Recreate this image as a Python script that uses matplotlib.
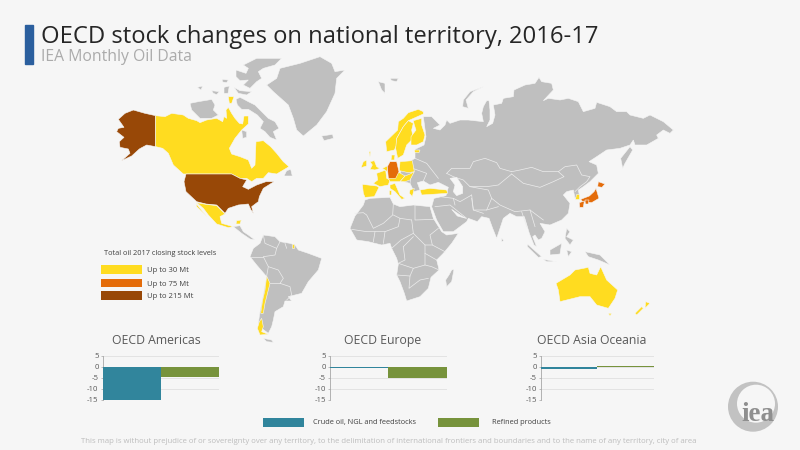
import matplotlib
matplotlib.use("Agg")
import matplotlib.pyplot as plt
from matplotlib.patches import Polygon, Rectangle, Circle

plt.rcParams['font.family'] = ['Open Sans', 'DejaVu Sans']
plt.rcParams['axes.unicode_minus'] = False

BG = '#F6F6F6'; GREY = '#BFBFBF'; YEL = '#FFDC20'; ORA = '#E46C0A'; BRO = '#984807'
TEAL = '#31859C'; GRN = '#77933C'

# ---------- chart data ----------
regions = ['OECD Americas', 'OECD Europe', 'OECD Asia Oceania']
crude = [-15.0, -0.7, -0.9]
refined = [-4.5, -5.2, 0.3]
yticks = [5, 0, -5, -10, -15]
legend_levels = ['Up to 30 Mt', 'Up to 75 Mt', 'Up to 215 Mt']

# ---------- map outlines (origin x, origin y, 3x crop points) ----------
NA = (100, 50)
alaska = [(100,180),(135,190),(167,197),(167,290),(140,285),(125,293),(118,297),(95,318),(65,332),(90,310),(85,297),(60,292),(58,275),(72,262),(50,245),(55,235),(72,232),(55,208),(75,190)]
canada = [(167,197),(195,200),(215,190),(250,195),(265,205),(290,212),(300,218),(320,210),(350,205),(368,215),(372,200),(380,205),(378,180),(385,172),(395,190),(405,205),(418,220),(428,222),(432,198),(445,198),(445,222),(425,240),(405,265),(388,295),(395,312),(420,320),(445,330),(455,355),(465,345),(468,275),(490,272),(512,290),(530,310),(550,335),(567,350),(530,372),(505,368),(490,385),(470,385),(455,395),(440,385),(420,385),(395,372),(250,372),(220,345),(205,310),(188,295),(167,290)]
canada_isl = [(385,140),(402,140),(395,160),(388,160)]
usa = [(258,372),(395,372),(420,385),(440,390),(428,410),(445,418),(470,405),(498,395),(522,395),(490,415),(478,440),(475,455),(455,470),(460,490),(452,478),(445,462),(415,465),(385,475),(375,490),(350,465),(318,462),(290,455),(258,425),(252,395)]
mexico = [(290,458),(318,463),(350,467),(375,492),(360,500),(365,520),(400,530),(385,533),(350,522),(325,495),(310,475)]
baja = [(288,460),(300,475),(320,500),(305,485),(290,470)]
yucatan = [(410,512),(424,510),(420,522),(408,522)]
grey_na = [
    [(270,160),(295,155),(325,150),(335,148),(345,165),(340,180),(355,195),(335,205),(300,205),(275,180)],
    [(408,148),(420,142),(432,148),(445,155),(465,165),(485,185),(505,205),(525,215),(537,235),(520,245),(530,270),(510,262),(495,245),(480,235),(490,215),(472,195),(445,178),(425,178),(412,165)],
    [(430,45),(470,25),(545,25),(525,45),(490,55),(475,65),(485,85),(470,95),(450,115),(430,105),(445,90),(420,92),(408,80),(408,60),(438,70),(445,55)],
    [(500,105),(530,85),(540,55),(600,40),(660,20),(695,40),(705,65),(735,60),(710,85),(705,130),(680,185),(650,225),(610,258),(590,240),(580,205),(565,165),(520,125)],
    [(560,362),(572,358),(577,378),(552,378)],
    [(665,258),(698,253),(700,265),(672,272)],
    [(425,240),(440,245),(440,262),(428,265)],
    [(366,88),(385,90),(380,98),(368,96)],
    [(292,112),(308,108),(303,120)],
    [(372,112),(388,108),(384,130),(372,130)],
    [(402,112),(420,122),(455,125),(440,135),(415,130)],
    [(335,122),(358,125),(350,134),(340,130)],
]

SA = (220, 215)
south_america = [(130,60),(165,65),(180,80),(210,85),(225,90),(235,105),(265,115),(305,130),(295,165),(265,200),(245,235),(225,240),(205,245),(215,258),(195,258),(190,275),(165,290),(160,315),(155,335),(145,355),(125,340),(115,325),(120,290),(130,240),(140,185),(110,150),(90,125),(100,100),(120,85)]
central_america = [(40,35),(60,32),(70,50),(85,60),(105,75),(90,72),(65,55)]
fuego = [(130,370),(155,375),(160,382),(140,380)]
chile_n = [(140,183),(150,205),(145,225),(135,265),(130,295),(122,295),(128,255),(135,225)]
chile_s = [(125,310),(130,335),(125,350),(145,358),(120,360),(112,340),(118,320)]
guiana = [(215,88),(222,88),(222,100),(215,100)]
sa_borders = [
    [(130,60),(135,85),(170,100),(165,120),(130,125),(145,155),(140,183)],
    [(90,125),(130,125)],
    [(145,155),(175,165),(190,190),(180,205),(210,215),(215,240),(200,255)],
    [(150,205),(180,205)],
    [(170,100),(180,80)],
    [(195,85),(200,100)],
]

AF = (345, 190)
africa = [(60,30),(75,25),(135,22),(145,42),(165,50),(205,45),(255,50),(265,85),(290,125),(305,135),(340,130),(320,160),(295,190),(275,210),(280,230),(282,240),(258,262),(250,295),(225,320),(185,333),(178,310),(165,275),(155,255),(160,222),(155,205),(140,175),(135,160),(110,165),(70,155),(35,150),(15,115),(30,78),(55,45)]
madagascar = [(320,240),(327,238),(320,275),(305,290),(302,270),(312,255)]
af_borders = [
    [(210,45),(210,90),(268,88)],
    [(145,42),(143,75),(115,100),(85,115),(65,75),(55,68),(30,70)],
    [(145,75),(165,85),(160,110),(120,125),(90,125),(65,125),(20,118)],
    [(200,90),(205,130),(168,150),(140,175)],
    [(165,85),(200,90)],
    [(205,130),(240,165),(262,165),(255,135),(280,115)],
    [(262,165),(300,185)],
    [(175,170),(180,210),(160,220),(205,235),(240,225),(240,190),(240,165)],
    [(155,255),(195,258),(192,295),(225,270),(250,265)],
    [(240,190),(275,210)],
    [(282,240),(260,230),(240,225)],
    [(205,235),(195,258)],
    [(120,125),(115,160)],
    [(90,125),(85,155)],
    [(205,140),(175,170)],
]

EU = (340, 50)
eurasia = [(250,200),(275,200),(300,225),(280,235),(300,240),(315,225),(320,210),(330,220),(360,210),(385,210),(430,215),(425,190),(430,170),(440,152),(447,152),(450,180),(450,210),(440,230),(458,220),(465,195),(460,165),(485,160),(490,145),(520,140),(522,120),(555,105),(585,100),(597,82),(605,95),(635,100),(640,120),(610,152),(625,145),(660,150),(685,145),(715,155),(730,185),(765,175),(770,157),(810,170),(830,185),(860,185),(870,195),(910,205),(930,195),(970,215),(1000,240),(990,250),(970,240),(950,255),(955,265),(920,285),(885,285),(880,270),(870,285),(840,295),(800,300),(770,320),(747,335),(770,345),(775,370),(750,395),(730,410),(715,420),(718,435),(705,445),(700,420),(680,425),(670,435),(690,460),(685,490),(665,510),(630,525),(600,520),(615,545),(605,565),(595,570),(585,555),(578,560),(590,590),(582,585),(568,550),(562,530),(553,500),(530,500),(510,490),(490,505),(470,565),(458,535),(447,505),(425,500),(412,515),(385,505),(380,515),(340,545),(310,545),(290,510),(275,470),(282,445),(318,437),(325,412),(295,397),(270,405),(250,393),(232,398),(240,420),(222,425),(210,400),(190,395),(178,375),(190,345),(225,325),(225,298),(252,285),(258,260)]
caspian = [(330,385),(350,382),(368,410),(368,430),(350,437),(340,425),(345,405)]
gulf = [(335,478),(360,495),(378,505),(352,498)]
grey_asia = [
    [(370,150),(390,125),(430,110),(400,125),(378,150),(385,175),(368,170)],
    [(870,290),(878,300),(855,340),(848,355),(842,325)],
    [(485,565),(492,572),(485,575)],
    [(562,582),(605,620),(595,622),(562,590)],
    [(630,600),(665,580),(660,612),(630,615)],
    [(610,628),(650,635),(620,635)],
    [(680,600),(695,605),(685,620)],
    [(735,605),(780,615),(810,645),(775,630),(745,620)],
    [(680,535),(690,545),(680,560),(700,570),(690,585),(675,565)],
    [(115,95),(135,100),(135,130),(125,120)],
    [(150,85),(175,85),(170,95),(155,92)],
]
asia_borders = [
    [(225,325),(260,340),(295,385)],
    [(190,345),(260,370),(250,393)],
    [(215,365),(210,400)],
    [(300,440),(340,445),(360,455),(395,435)],
    [(285,470),(330,465),(380,505)],
    [(340,445),(345,465)],
    [(395,435),(400,480),(430,490)],
]
C_AS = (440, 70)
central_borders = [
    [(20,310),(35,295),(90,295),(100,275),(135,265),(170,278),(180,295),(215,305)],
    [(215,305),(240,300),(275,292),(310,305),(355,305),(375,290),(410,285),(425,315),(450,320),(440,335),(420,350),(405,365)],
    [(215,312),(250,340),(300,352),(340,335),(372,320),(355,305)],
    [(20,310),(40,320),(70,330),(90,350),(140,350),(175,345),(215,312)],
    [(95,385),(100,420),(140,420),(155,385),(145,360),(90,350)],
    [(155,385),(180,405),(225,425),(270,420),(310,450)],
    [(175,410),(140,420)],
    [(245,425),(260,470)],
    [(270,420),(285,470)],
]
aus = [(648,700),(690,675),(705,660),(745,652),(750,670),(770,675),(782,650),(800,690),(833,720),(825,745),(805,775),(770,765),(750,740),(720,740),(660,755),(655,720)]
tasmania = [(805,790),(815,790),(810,798)]
nz_n = [(917,755),(930,760),(915,775)]
nz_s = [(905,770),(910,775),(890,795),(885,790)]
korea = [(707,432),(716,432),(716,447),(706,447)]
honshu = [(768,415),(777,445),(755,458),(728,455),(722,448),(748,438),(762,425)]
hokkaido = [(775,395),(795,402),(786,412),(773,410)]
kyushu = [(718,458),(733,453),(730,472),(719,472)]
shikoku = [(735,450),(747,450),(745,462),(736,462)]

EP = (355, 100)
yellow_eu = [
    [(205,35),(190,28),(160,38),(145,55),(130,65),(128,90),(92,125),(95,155),(118,150),(125,135),(125,115),(145,80),(160,62),(205,42)],
    [(160,62),(145,80),(125,115),(122,145),(128,175),(145,165),(155,135),(175,115),(170,90),(175,70)],
    [(175,62),(200,55),(200,75),(210,105),(205,125),(185,135),(168,135),(168,110),(183,90),(178,75)],
    [(110,165),(120,165),(118,180),(108,180)],
    [(178,150),(195,150),(192,158),(180,158)],
    [(45,185),(58,182),(65,200),(75,205),(60,210),(45,208),(52,195)],
    [(25,185),(35,180),(35,198),(18,203)],
    [(42,155),(47,155),(45,170)],
    [(65,220),(92,210),(95,235),(105,240),(100,255),(75,260),(55,250),(68,240)],
    [(82,205),(97,198),(97,215),(90,210)],
    [(135,185),(172,182),(178,215),(160,218),(133,212)],
    [(100,235),(128,215),(150,228),(135,245),(105,245)],
    [(150,228),(165,222),(178,215),(165,240),(150,245),(135,245)],
    [(105,255),(120,250),(135,285),(150,295),(140,298),(120,275),(105,265)],
    [(22,253),(65,258),(72,262),(58,290),(30,292),(25,280)],
    [(165,270),(178,265),(172,290),(163,280)],
    [(195,270),(225,265),(275,270),(278,280),(200,285)],
    [(103,272),(110,272),(109,285),(103,285)],
]
germany = [(105,185),(125,185),(132,215),(122,235),(100,235),(97,200)]


def pts(origin, crop_points):
    return [(origin[0] + x / 3, origin[1] + y / 3) for x, y in crop_points]


fig = plt.figure(figsize=(8, 4.5), dpi=100, facecolor=BG)
ax = fig.add_axes([0, 0, 1, 1])
ax.set_xlim(0, 800); ax.set_ylim(450, 0); ax.axis('off')


def land(origin, crop_points, color=GREY, z=2):
    ax.add_patch(Polygon(pts(origin, crop_points), closed=True, facecolor=color,
                         edgecolor=BG, lw=0.4, zorder=z))


def lines(origin, polylines, z=3):
    for p in polylines:
        xy = pts(origin, p)
        ax.plot([q[0] for q in xy], [q[1] for q in xy], color='#EDEDED', lw=0.5, zorder=z)


for p in grey_na:
    land(NA, p)
for p, c in [(alaska, BRO), (canada, YEL), (canada_isl, YEL), (usa, BRO), (mexico, YEL), (baja, YEL), (yucatan, YEL)]:
    land(NA, p, c, 4)

land(SA, south_america); land(SA, central_america); land(SA, fuego)
lines(SA, sa_borders)
for p in (chile_n, chile_s, guiana):
    land(SA, p, YEL, 4)

land(AF, africa); land(AF, madagascar)
lines(AF, af_borders)

land(EU, eurasia)
for p in grey_asia:
    land(EU, p)
for p in (caspian, gulf):
    land(EU, p, BG, 3)
lines(EU, asia_borders)
lines(C_AS, central_borders)
for p in (aus, tasmania, nz_n, nz_s, korea):
    land(EU, p, YEL, 4)
for p in (honshu, hokkaido, kyushu, shikoku):
    land(EU, p, ORA, 4)
for p in yellow_eu:
    land(EP, p, YEL, 4)
land(EP, germany, ORA, 5)

# ---------- header ----------
ax.add_patch(Rectangle((25, 25), 8, 39, color='#2B5F9E', zorder=6))
ax.text(41, 43.3, 'OECD stock changes on national territory, 2016-17', fontsize=17.1,
        color='#262626', va='baseline', ha='left', zorder=6)
ax.text(41, 60.8, 'IEA Monthly Oil Data', fontsize=11.3, color='#ABABAB', va='baseline', ha='left', zorder=6)

# ---------- map legend ----------
ax.text(104, 255, 'Total oil 2017 closing stock levels', fontsize=5.3, color='#404040', va='baseline', zorder=6)
for label, c, y0, ty in zip(legend_levels, [YEL, ORA, BRO], [265, 278.5, 291], [271.5, 285.5, 298]):
    ax.add_patch(Rectangle((101, y0), 41, 8.7, facecolor=c, edgecolor='none', zorder=6))
    ax.text(147, ty, label, fontsize=5.5, color='#404040', va='baseline', zorder=6)

# ---------- regional bar charts ----------
frames = [(102.7, 219.3), (330, 446.7), (541, 653.7)]
centres = [156, 383, 592]
for name, a, b, (x0, x1), cx in zip(regions, crude, refined, frames, centres):
    sub = fig.add_axes([x0 / 800, 1 - 399.5 / 450, (x1 - x0) / 800, 43.8 / 450])
    sub.patch.set_alpha(0)
    sub.bar([0, 1], [a, b], width=1, color=[TEAL, GRN], edgecolor='none', zorder=3)
    sub.set_xlim(-0.5, 1.5); sub.set_ylim(-15, 5)
    sub.set_yticks(yticks); sub.set_xticks([])
    sub.tick_params(axis='y', labelsize=5.6, labelcolor='#595959', length=1.5, width=0.5, color='#A6A6A6', pad=1.5, direction='out')
    sub.grid(axis='y', color='#E0E0E0', lw=0.6, zorder=0)
    for s in ('top', 'right', 'bottom'):
        sub.spines[s].set_visible(False)
    sub.spines['left'].set_color('#A6A6A6'); sub.spines['left'].set_linewidth(0.6)
    ax.text(cx, 344, name, fontsize=8.8, color='#595959', ha='center', va='baseline', zorder=6)

# ---------- bottom legend ----------
ax.add_patch(Rectangle((263, 417.7), 41, 8.8, facecolor=TEAL, edgecolor='none', zorder=6))
ax.text(313, 424, 'Crude oil, NGL and feedstocks', fontsize=5.3, color='#404040', va='baseline', zorder=6)
ax.add_patch(Rectangle((438, 417.7), 41, 8.8, facecolor=GRN, edgecolor='none', zorder=6))
ax.text(492, 424, 'Refined products', fontsize=5.3, color='#404040', va='baseline', zorder=6)

ax.text(389, 443, 'This map is without prejudice of or sovereignty over any territory, to the delimitation '
        'of international frontiers and boundaries and to the name of any territory, city of area',
        fontsize=5.57, color='#BDBDBD', ha='center', va='baseline', zorder=6)

# ---------- logo ----------
ax.add_patch(Circle((753, 406.7), 25, facecolor='#C2C2C2', edgecolor='none', zorder=6))
ax.add_patch(Circle((756, 403.7), 19, facecolor=BG, edgecolor='none', zorder=7))
ax.text(757.5, 421, 'iea', fontsize=19.5, fontweight='bold', family='Liberation Serif', color='#8F8F8F',
        ha='center', va='baseline', zorder=8)

fig.savefig('out.png', dpi=100, facecolor=BG)
